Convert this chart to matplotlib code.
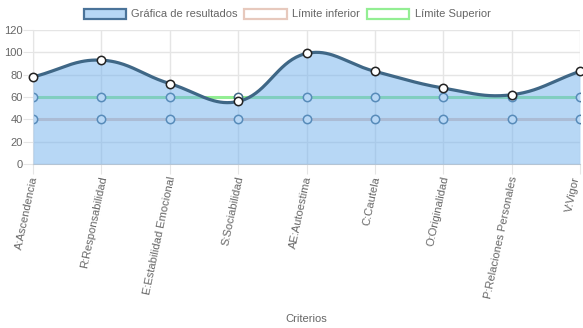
import numpy as np
import matplotlib
matplotlib.use("Agg")
import matplotlib.pyplot as plt
from matplotlib.patches import Patch
from matplotlib.transforms import ScaledTranslation

plt.rcParams['font.family'] = ['Liberation Sans', 'DejaVu Sans']

categorias = ["A:Ascendencia", "R:Responsabilidad", "E:Estabilidad Emocional",
              "S:Sociabilidad", "AE:Autoestima", "C:Cautela", "O:Originalidad",
              "P:Relaciones Personales", "V:Vigor"]
resultados = [78, 93, 72, 56, 99, 83, 68, 62, 83]
limite_inferior = [40, 40, 40, 40, 40, 40, 40, 40, 40]
limite_superior = [60, 60, 60, 60, 60, 60, 60, 60, 60]
y_ticks = [0, 20, 40, 60, 80, 100, 120]

TEXT = "#666666"
GRID = "#e5e5e5"
LINE = "#3f6786"
FILL = (0.44, 0.69, 0.93, 0.5)
PINK = "#e7c9bd"
GREEN = "#93ee93"
FS = 8.0

fig = plt.figure(figsize=(5.83, 3.28), dpi=100)
ax = fig.add_axes([33 / 583, 1 - 164 / 328, (580 - 33) / 583, (164 - 30) / 328])

x = np.arange(len(categorias))
ax.set_xlim(x[0], x[-1])
ax.set_ylim(0, 120)
ax.set_yticks(y_ticks)
ax.set_xticks(x)
ax.set_xticklabels(categorias, rotation=78, ha="right", va="center",
                   rotation_mode="anchor", color=TEXT, fontsize=FS)
ax.tick_params(axis="x", length=7, color=GRID, pad=2)
ax.tick_params(axis="y", length=7, color=GRID, labelcolor=TEXT, labelsize=FS, pad=0.5)
labels = ax.get_xticklabels()
for i, lbl in enumerate(labels):
    dx = 2 if i < len(labels) - 1 else -3
    lbl.set_transform(lbl.get_transform() + ScaledTranslation(dx / 100, 0, fig.dpi_scale_trans))
ax.grid(True, color=GRID, linewidth=1)
ax.set_axisbelow(True)
for s in ["top", "right"]:
    ax.spines[s].set_visible(False)
ax.spines["left"].set_color(GRID)
ax.spines["bottom"].set_color("#cccccc")

# limit series, drawn beneath the translucent area
ax.plot(x, limite_inferior, color=PINK, linewidth=2.2, zorder=2)
ax.plot(x, limite_superior, color=GREEN, linewidth=2.2, zorder=2)
ax.plot(x, limite_inferior, linestyle="none", marker="o", markersize=6,
        markerfacecolor="white", markeredgecolor=LINE, markeredgewidth=1.1, zorder=2.5)
ax.plot(x, limite_superior, linestyle="none", marker="o", markersize=6,
        markerfacecolor="white", markeredgecolor=LINE, markeredgewidth=1.1, zorder=2.5)

# smooth curve (cardinal bezier, tension 0.4) built in display space
fig.canvas.draw()
pts = ax.transData.transform(np.column_stack([x, resultados]))
tension = 0.4
n = len(pts)
cp_prev = np.zeros_like(pts)
cp_next = np.zeros_like(pts)
for i in range(n):
    p0 = pts[max(i - 1, 0)]
    p1 = pts[i]
    p2 = pts[min(i + 1, n - 1)]
    d01 = np.hypot(*(p1 - p0))
    d12 = np.hypot(*(p2 - p1))
    tot = d01 + d12
    s01 = d01 / tot if tot else 0
    s12 = d12 / tot if tot else 0
    cp_prev[i] = p1 - tension * s01 * (p2 - p0)
    cp_next[i] = p1 + tension * s12 * (p2 - p0)
curve = []
t = np.linspace(0, 1, 40)[:, None]
for i in range(n - 1):
    a, b, c, d = pts[i], cp_next[i], cp_prev[i + 1], pts[i + 1]
    seg = (1 - t) ** 3 * a + 3 * (1 - t) ** 2 * t * b + 3 * (1 - t) * t ** 2 * c + t ** 3 * d
    curve.append(seg if i == 0 else seg[1:])
curve = np.vstack(curve)
curve_data = ax.transData.inverted().transform(curve)

ax.fill_between(curve_data[:, 0], curve_data[:, 1], 0, color=FILL, linewidth=0, zorder=3)
ax.plot(curve_data[:, 0], curve_data[:, 1], color=LINE, linewidth=2.3, zorder=4,
        solid_capstyle="round")
ax.plot(x, resultados, linestyle="none", marker="o", markersize=6,
        markerfacecolor="white", markeredgecolor="#222222", markeredgewidth=1.1, zorder=5,
        clip_on=False)

ax.set_xlabel("Criterios", color=TEXT, fontsize=FS)
ax.xaxis.set_label_coords(0.5, -1.12)

handles = [
    Patch(facecolor="#b7d7f5", edgecolor="#4a7399", linewidth=1.6),
    Patch(facecolor="white", edgecolor=PINK, linewidth=1.6),
    Patch(facecolor="white", edgecolor=GREEN, linewidth=1.6),
]
fig.legend(handles, ["Gráfica de resultados", "Límite inferior", "Límite Superior"],
           loc="center", bbox_to_anchor=(287 / 583, 1 - 14 / 328), ncol=3,
           frameon=False, fontsize=FS, handlelength=3.8, handleheight=1.0,
           handletextpad=0.5, columnspacing=0.6, labelcolor=TEXT)

fig.savefig("out.png", dpi=100)
